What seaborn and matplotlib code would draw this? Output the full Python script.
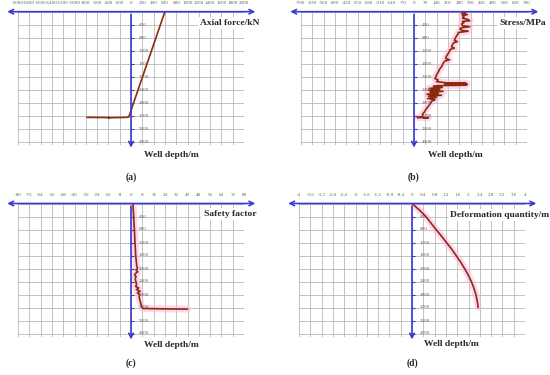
import matplotlib
matplotlib.use("Agg")
import matplotlib.pyplot as plt
import seaborn as sns
import numpy as np
import pandas as pd

sns.set_style("white")
plt.rcParams['font.family'] = ['Liberation Serif', 'DejaVu Serif']

# ---------------- data ----------------
depth_ticks = [400, 800, 1200, 1600, 2000, 2400, 2800, 3200, 3600, 4000]

# (a) axial force
axial_depth = [0, 3240, 3252, 3262, 3258, 3250]
axial_force = [600, -40, -90, -400, -380, -780]

# (b) stress
stress_depth = [0, 30, 60, 90, 120, 160, 200, 240, 280, 300, 330, 380, 430, 460, 500,
                540, 580, 600, 640, 700, 760, 820, 880, 920, 960, 1020, 1080, 1120, 1160,
                1220, 1300, 1380, 1440, 1480, 1520, 1600, 1680, 1760, 1840, 1920, 2000,
                2060, 2100, 2150, 2190, 2200, 2215, 2230, 2245, 2260, 2275, 2300, 2330,
                2360, 2390, 2420, 2450, 2480, 2510, 2540, 2570, 2600, 2640, 2670, 2710,
                2750, 2800, 2900, 3000, 3100, 3160, 3200, 3240, 3255, 3262, 3265]
stress_value = [300, 320, 295, 330, 300, 310, 300, 335, 345, 300, 310, 295, 300, 345, 290,
                285, 300, 335, 275, 270, 262, 255, 250, 268, 245, 238, 232, 250, 225,
                220, 210, 200, 196, 220, 190, 180, 172, 160, 152, 142, 135,
                130, 150, 140, 200, 320, 190, 330, 200, 325, 150, 120, 175,
                95, 160, 90, 180, 100, 150, 80, 170, 90, 140, 85, 130,
                110, 105, 90, 75, 62, 52, 55, 50, 20, 90, 60]

# (c) safety factor
sf_depth = [0, 200, 400, 600, 800, 1000, 1200, 1400, 1600, 1800, 1900, 2000, 2050, 2100,
            2150, 2200, 2250, 2300, 2400, 2500, 2550, 2600, 2650, 2700, 2750, 2800, 2900,
            3000, 3100, 3200, 3230, 3240, 3245, 3250]
sf_value = [1.4, 1.6, 1.9, 2.1, 2.4, 2.6, 2.8, 3.1, 3.3, 3.8, 4.0, 4.6, 3.5, 4.8,
            3.3, 2.5, 3.6, 3.0, 3.4, 4.0, 3.2, 5.5, 3.8, 6.5, 4.5, 6.0, 5.8,
            6.5, 7.0, 7.8, 8.5, 20, 30, 40]

# (d) deformation
def_depth = [0, 200, 400, 600, 800, 1000, 1200, 1400, 1600, 1800, 2000, 2200, 2400,
             2600, 2800, 3000, 3200]
def_value = [0, 0.26, 0.49, 0.67, 0.85, 1.04, 1.22, 1.40, 1.56, 1.72, 1.86, 1.99, 2.10,
             2.19, 2.26, 2.31, 2.34]

# ---------------- style ----------------
W, H = 550, 375
BLUE = '#3a3acb'
CURVE = '#8a2b10'
PINK = '#ffb8dc'
GRID = '#b8b8b8'
LBL = '#606060'

fig = plt.figure(figsize=(5.5, 3.75), dpi=100)


def panel(cx, top, lim, fmt, dep, val, title, title_xy, wd_xy, tag, tag_xy, glow=True):
    half = 113.0
    height = 133.25
    ax = fig.add_axes([(cx - half) / W, 1 - (top + height) / H, 2 * half / W, height / H])
    df = pd.DataFrame({'x': val, 'depth': dep})
    if glow:
        sns.lineplot(data=df, x='x', y='depth', sort=False, estimator=None, ax=ax,
                     color=PINK, lw=5, alpha=0.55, zorder=2)
    sns.lineplot(data=df, x='x', y='depth', sort=False, estimator=None, ax=ax,
                 color=CURVE, lw=1.2, zorder=4)
    ax.set_xlim(-lim, lim)
    ax.set_ylim(4100, 0)
    xt = np.linspace(-lim, lim, 21)
    ax.set_xticks(xt)
    ax.set_xticklabels([fmt(v) for v in xt])
    ax.set_yticks([0] + depth_ticks)
    ax.grid(True, color=GRID, lw=0.6, zorder=0)
    ax.set_axisbelow(True)
    for s in ax.spines.values():
        s.set_visible(False)
    ax.set_xlabel('')
    ax.set_ylabel('')
    ax.tick_params(axis='x', top=False, bottom=False, labeltop=True, labelbottom=False,
                   pad=1.0, labelsize=3.6, labelcolor=LBL)
    ax.tick_params(axis='y', left=False, labelleft=False)
    # axes arrows
    ax.annotate('', xy=(-lim * 1.12, 0), xytext=(lim * 1.125, 0),
                arrowprops=dict(arrowstyle='<->', color=BLUE, lw=1.2, mutation_scale=8),
                annotation_clip=False, zorder=6)
    ax.annotate('', xy=(0, 4270), xytext=(0, 0),
                arrowprops=dict(arrowstyle='->', color=BLUE, lw=1.2, mutation_scale=8),
                annotation_clip=False, zorder=6)
    px = lim / half  # data units per pixel
    ax.hlines(depth_ticks, 0, 3 * px, color=BLUE, lw=0.8, zorder=5)
    for d in depth_ticks:
        ax.text(8 * px, d, str(d), fontsize=3.6, color=LBL, va='center', ha='left', zorder=5)
    fig.text(title_xy[0] / W, 1 - title_xy[1] / H, title, ha='right', va='center',
             fontsize=6.8, fontweight='bold',
             bbox=dict(fc='white', ec='none', pad=1.5))
    fig.text(wd_xy[0] / W, 1 - wd_xy[1] / H, 'Well depth/m', ha='center', va='center',
             fontsize=6.8, fontweight='bold')
    fig.text(tag_xy[0] / W, 1 - tag_xy[1] / H, tag, ha='center', va='center',
             fontsize=7, fontweight='bold')
    return ax


def fint(v):
    return '%d' % round(v)


def fdec(v):
    r = round(v, 1)
    return '%g' % r if r != 0 else '0'


panel(131, 11.7, 2000, fint, axial_depth, axial_force, 'Axial force/kN',
      (259, 23), (171, 155), '(a)', (131, 177), glow=False)
panel(414, 11.7, 700, fint, stress_depth, stress_value, 'Stress/MPa',
      (546, 23), (455, 155), '(b)', (414, 177))
panel(131, 203.5, 80, fint, sf_depth, sf_value, 'Safety factor',
      (256, 214), (171, 345), '(c)', (131, 363))
panel(412, 203.5, 4, fdec, def_depth, def_value, 'Deformation quantity/m',
      (549, 215), (451, 344), '(d)', (412, 363))

fig.savefig('out.png', dpi=100, facecolor='white')
